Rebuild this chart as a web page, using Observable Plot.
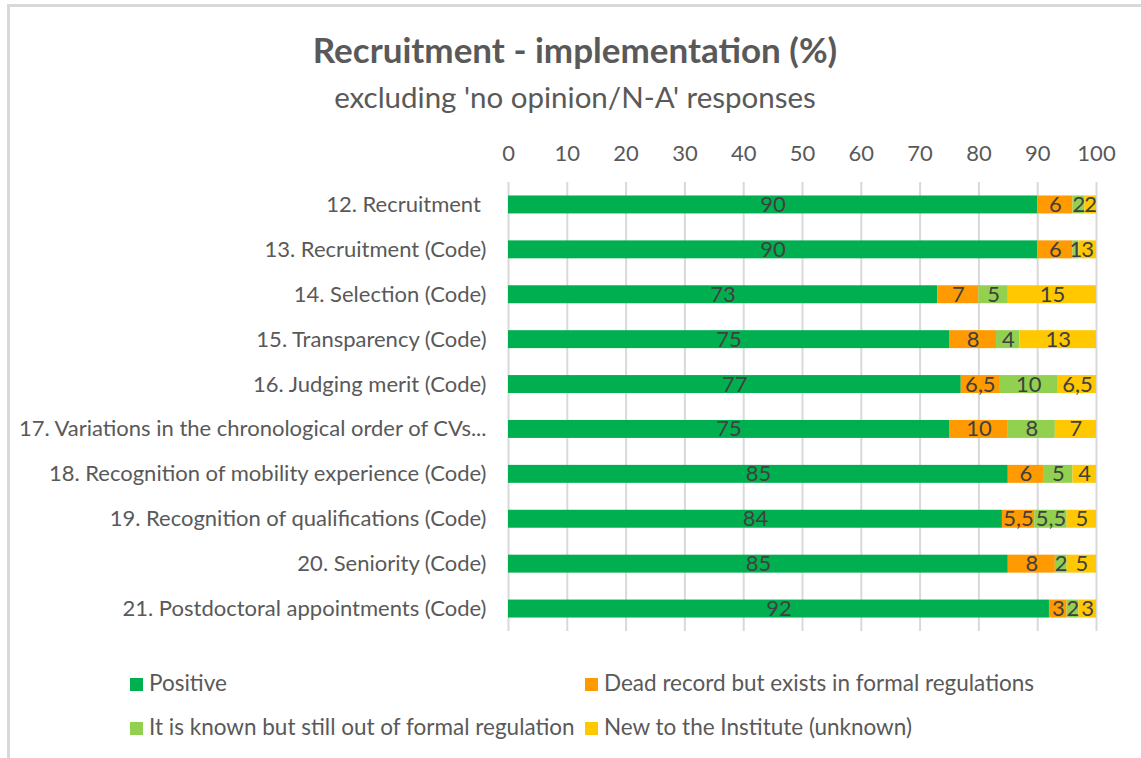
<!DOCTYPE html>
<html>
<head>
<meta charset="utf-8">
<script src="https://cdn.jsdelivr.net/npm/d3@7"></script>
<script src="https://cdn.jsdelivr.net/npm/@observablehq/plot@0.6"></script>
<style>
  html, body { margin: 0; padding: 0; background: #fff; }
  body { width: 1141px; height: 758px; position: relative; overflow: hidden; font-family: Lato, "Open Sans", sans-serif; }
  #frame { position: absolute; left: 7px; top: 4px; width: 1200px; height: 800px; border-left: 3px solid #d9d9d9; border-top: 3px solid #d9d9d9; }
  #title { position: absolute; left: 0; width: 1150px; top: 27px; text-align: center; font-size: 35px; font-weight: bold; color: #595959; line-height: 44px; }
  #subtitle { position: absolute; left: 0; width: 1150px; top: 79px; text-align: center; font-size: 29.5px; color: #595959; line-height: 36px; }
  #chart { position: absolute; left: 0; top: 0; }
  .leg { position: absolute; font-size: 22.5px; color: #595959; white-space: nowrap; line-height: 26px; }
  .leg span.sw { display: inline-block; width: 13px; height: 13px; margin-right: 6px; vertical-align: 0px; }
</style>
</head>
<body>
<div id="frame"></div>
<div id="chart"></div>
<div id="title">Recruitment - implementation (%)</div>
<div id="subtitle">excluding 'no opinion/N-A' responses</div>
<div id="legend"></div>
<script>
const categories = [
  "12. Recruitment ",
  "13. Recruitment (Code)",
  "14. Selection (Code)",
  "15. Transparency (Code)",
  "16. Judging merit (Code)",
  "17. Variations in the chronological order of CVs...",
  "18. Recognition of mobility experience (Code)",
  "19. Recognition of qualifications (Code)",
  "20. Seniority (Code)",
  "21. Postdoctoral appointments (Code)"
];
const seriesNames = [
  "Positive",
  "Dead record but exists in formal regulations",
  "It is known but still out of formal regulation",
  "New to the Institute (unknown)"
];
const seriesColors = ["#00b050", "#ff9a00", "#92d050", "#ffc800"];
const positive = [90, 90, 73, 75, 77, 75, 85, 84, 85, 92];
const deadRecord = [6, 6, 7, 8, 6.5, 10, 6, 5.5, 8, 3];
const knownOutside = [2, 1, 5, 4, 10, 8, 5, 5.5, 2, 2];
const newToInstitute = [2, 3, 15, 13, 6.5, 7, 4, 5, 5, 3];
const xTicks = [0, 10, 20, 30, 40, 50, 60, 70, 80, 90, 100];

const seriesValues = [positive, deadRecord, knownOutside, newToInstitute];
const data = [];
categories.forEach((c, i) => {
  seriesValues.forEach((vals, s) => {
    data.push({q: c, series: seriesNames[s], value: vals[i]});
  });
});
const fmt = v => String(v).replace(".", ",");

const chart = Plot.plot({
  width: 1141,
  height: 650,
  marginTop: 182,
  marginBottom: 19,
  marginLeft: 508,
  marginRight: 45,
  style: {fontFamily: "Lato, 'Open Sans', sans-serif", background: "transparent"},
  x: {domain: [0, 100], axis: null, label: null},
  y: {domain: categories, padding: 0.6, paddingOuter: 0.3, round: false, axis: null, label: null},
  color: {domain: seriesNames, range: seriesColors},
  marks: [
    Plot.ruleX(xTicks, {stroke: "#d9d9d9", strokeWidth: 2}),
    Plot.barX(data, Plot.stackX({x: "value", y: "q", fill: "series", inset: 0})),
    Plot.text(data, Plot.stackX({x: "value", y: "q", text: d => fmt(d.value), fill: "#404040", fontSize: 22})),
    Plot.axisX({anchor: "top", ticks: xTicks, tickSize: 0, tickPadding: 22, fontSize: 22, color: "#595959", tickFormat: d => d, label: null}),
    Plot.axisY({anchor: "left", tickSize: 0, tickPadding: 22, fontSize: 22, color: "#595959", label: null})
  ]
});
chart.querySelectorAll("g[aria-label='x-axis tick label'] text, g[aria-label='y-axis tick label'] text").forEach(t => t.setAttribute("fill", "#595959"));
document.getElementById("chart").appendChild(chart);

const legendPos = [[130, 670], [585, 670], [130, 714], [585, 714]];
const legend = document.getElementById("legend");
seriesNames.forEach((name, i) => {
  const d = document.createElement("div");
  d.className = "leg";
  d.style.left = legendPos[i][0] + "px";
  d.style.top = legendPos[i][1] + "px";
  d.innerHTML = `<span class="sw" style="background:${seriesColors[i]}"></span>${name}`;
  legend.appendChild(d);
});
</script>
</body>
</html>
